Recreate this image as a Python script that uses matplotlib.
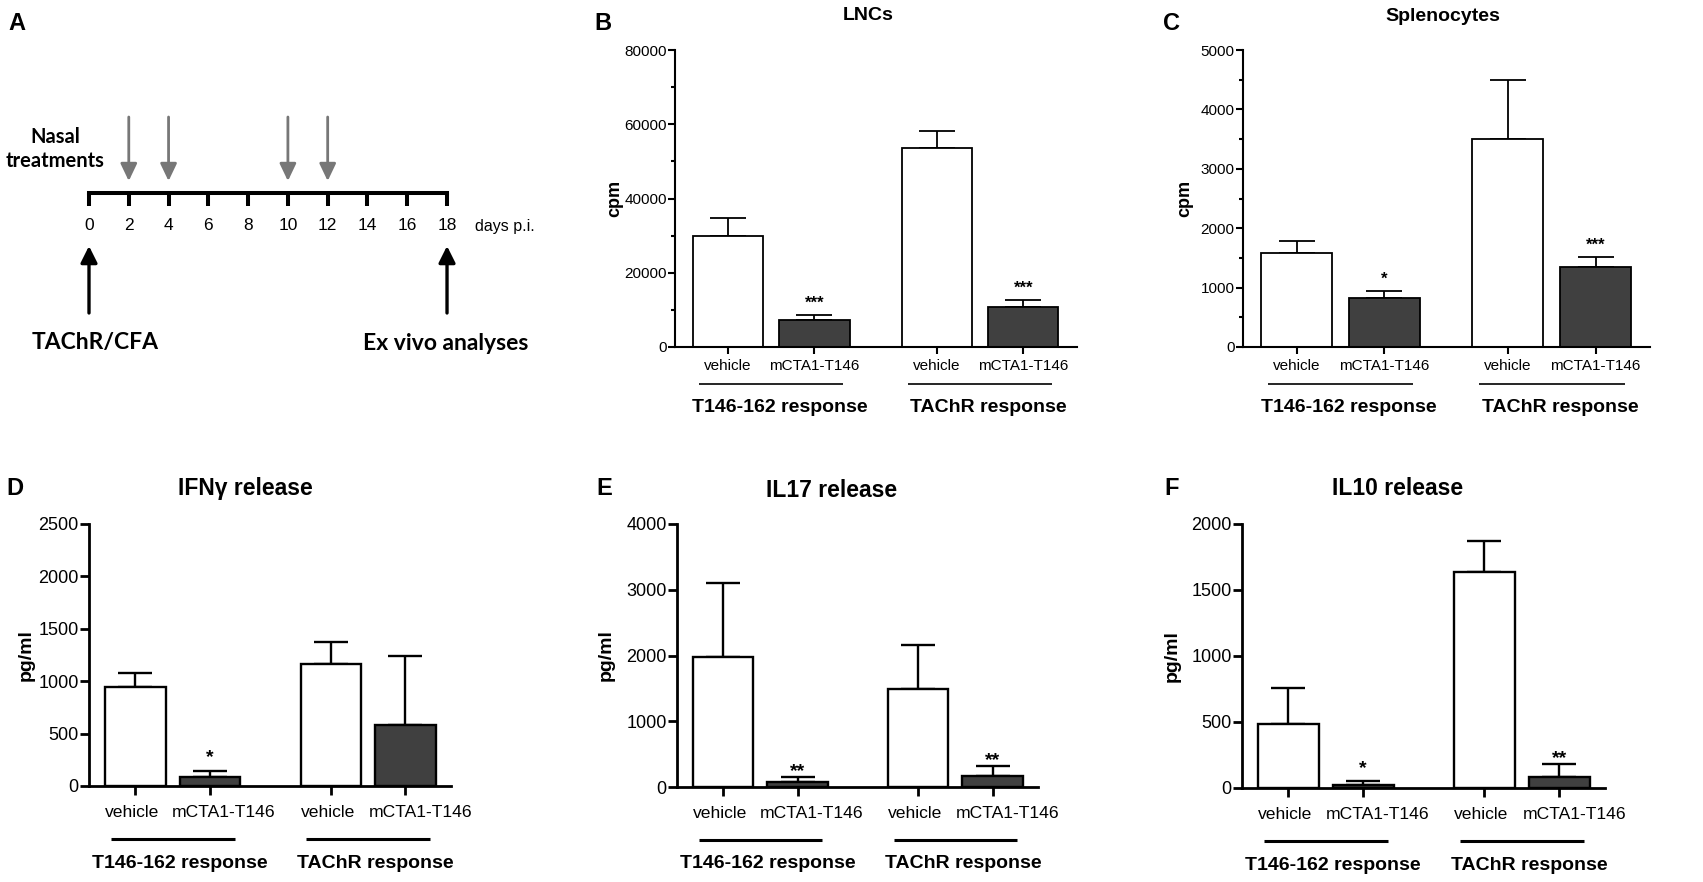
import numpy as np
import matplotlib
matplotlib.use("Agg")
import matplotlib.pyplot as plt
from matplotlib.ticker import MultipleLocator
from matplotlib.transforms import blended_transform_factory

W, H, DPI = 1703, 882, 100
plt.rcParams["font.family"] = ["Liberation Sans", "DejaVu Sans"]

# ---- data ----
CATEGORIES = ["vehicle", "mCTA1-T146", "vehicle", "mCTA1-T146"]
GROUPS = ["T146-162 response", "TAChR response"]

LNC_MEAN = [30000, 7400, 53500, 10800]
LNC_SEM = [4700, 1200, 4800, 1800]
LNC_STARS = ["", "***", "", "***"]

SPL_MEAN = [1590, 830, 3510, 1350]
SPL_SEM = [200, 110, 985, 170]
SPL_STARS = ["", "*", "", "***"]

IFNG_MEAN = [940, 86, 1160, 586]
IFNG_SEM = [137, 60, 210, 653]
IFNG_STARS = ["", "*", "", ""]

IL17_MEAN = [1977, 76, 1494, 163]
IL17_SEM = [1128, 76, 661, 157]
IL17_STARS = ["", "**", "", "**"]

IL10_MEAN = [486, 25, 1637, 81]
IL10_SEM = [275, 25, 232, 100]
IL10_STARS = ["", "*", "", "**"]

TIMELINE_DAYS = list(range(0, 19, 2))
NASAL_DAYS = [2, 4, 10, 12]
IMMUNISATION_DAY = 0
ANALYSIS_DAY = 18

FILLS = ["white", "#404040", "white", "#404040"]

fig = plt.figure(figsize=(W / DPI, H / DPI), dpi=DPI)
PT = 72 / DPI  # points per pixel


def px_rect(left, top, right, bottom):
    return [left / W, 1 - bottom / H, (right - left) / W, (bottom - top) / H]


def ftext(x, y, s, **kw):
    fig.text(x / W, 1 - y / H, s, **kw)


TOP = dict(pos=[0, 1, 2.41, 3.41], xlim=(-0.61, 4.03), tick_fs=11, cat_fs=11,
           cat_shift=(0, 0, 0, 0), cat_off=12,
           spine=1.5, edge=1.3, cap=13, tlen=5, line_off=37, line_lw=1.2,
           grp_off=61, grp_fs=14, star_fs=12, ylab_fs=13)
BOT = dict(pos=[0, 1, 2.62, 3.62], xlim=(-0.62, 4.23), tick_fs=13, cat_fs=12.6,
           cat_shift=(-3, 14, -3, 15), cat_off=19,
           spine=2.0, edge=1.7, cap=12, tlen=6.5, line_off=53, line_lw=2.2,
           grp_off=77, grp_fs=14, star_fs=14, ylab_fs=14)


def bar_panel(rect, means, sems, stars, ymax, major, minor, ylabel, ylab_off, st, star_off):
    left, top, right, bottom = rect
    wpx, hpx = right - left, bottom - top
    ax = fig.add_axes(px_rect(*rect))
    pos = st["pos"]
    ax.bar(pos, means, width=0.81, color=FILLS, edgecolor="black",
           linewidth=st["edge"], zorder=2)
    ax.errorbar(pos, means, yerr=[np.zeros(len(means)), sems], fmt="none",
                ecolor="black", elinewidth=st["edge"], capsize=st["cap"],
                capthick=st["edge"], zorder=1)
    for p, m, e, s in zip(pos, means, sems, stars):
        if s:
            ax.annotate(s, xy=(p, m + e), xytext=(0, star_off[s]),
                        textcoords="offset points", ha="center", va="bottom",
                        fontsize=st["star_fs"], fontweight="bold")
    ax.set_xlim(*st["xlim"])
    ax.set_ylim(0, ymax)
    ax.set_yticks(np.arange(0, ymax + 1, major))
    if minor:
        ax.yaxis.set_minor_locator(MultipleLocator(minor))
    ax.set_xticks(pos)
    ax.set_xticklabels([])
    tr = blended_transform_factory(ax.transData, ax.transAxes)
    for p, lab, dx in zip(pos, CATEGORIES, st["cat_shift"]):
        ax.annotate(lab, xy=(p, 0), xycoords=tr, xytext=(dx * PT, -st["cat_off"] * PT),
                    textcoords="offset points", ha="center", va="top",
                    fontsize=st["cat_fs"], annotation_clip=False)
    for sp in ("top", "right"):
        ax.spines[sp].set_visible(False)
    for sp in ("left", "bottom"):
        ax.spines[sp].set_linewidth(st["spine"])
    ax.tick_params(axis="y", which="major", direction="out", length=st["tlen"],
                   width=st["spine"], labelsize=st["tick_fs"], pad=1)
    ax.tick_params(axis="y", which="minor", direction="out", length=st["tlen"] * 0.55,
                   width=st["spine"])
    ax.tick_params(axis="x", direction="out", length=st["tlen"], width=st["spine"])
    ax.text(-ylab_off / wpx, 0.5, ylabel, transform=ax.transAxes, rotation=90,
            ha="center", va="center", fontsize=st["ylab_fs"], fontweight="bold")
    for g, (i, j) in enumerate([(0, 1), (2, 3)]):
        ax.plot([pos[i] - 0.33, pos[j] + 0.33], [-st["line_off"] / hpx] * 2,
                transform=tr, clip_on=False, color="black", lw=st["line_lw"],
                solid_capstyle="butt")
        ax.text((pos[i] + pos[j]) / 2 + 0.1, -st["grp_off"] / hpx, GROUPS[g],
                transform=tr, ha="center", va="center", fontsize=st["grp_fs"],
                fontweight="bold")
    return ax


STAR_OFF_TOP = {"*": 3, "**": 2, "***": 3}
STAR_OFF_BOT = {"*": 3, "**": -2, "***": 3}

bar_panel((675, 50, 1077, 347), LNC_MEAN, LNC_SEM, LNC_STARS, 80000, 20000, 10000,
          "cpm", 60, TOP, STAR_OFF_TOP)
bar_panel((1243, 50, 1650, 347), SPL_MEAN, SPL_SEM, SPL_STARS, 5000, 1000, 500,
          "cpm", 58, TOP, STAR_OFF_TOP)
bar_panel((89, 524, 451, 786), IFNG_MEAN, IFNG_SEM, IFNG_STARS, 2500, 500, None,
          "pg/ml", 63, BOT, STAR_OFF_BOT)
bar_panel((677, 524, 1038, 787), IL17_MEAN, IL17_SEM, IL17_STARS, 4000, 1000, None,
          "pg/ml", 71, BOT, STAR_OFF_BOT)
bar_panel((1242, 524, 1605, 788), IL10_MEAN, IL10_SEM, IL10_STARS, 2000, 500, None,
          "pg/ml", 70, BOT, STAR_OFF_BOT)

# titles and panel letters
ftext(868, 20, "LNCs", ha="center", va="baseline", fontsize=14, fontweight="bold")
ftext(1443, 21, "Splenocytes", ha="center", va="baseline", fontsize=14, fontweight="bold")
ftext(245, 495, "IFN\u03b3 release", ha="center", va="baseline", fontsize=16.5, fontweight="bold")
ftext(832, 497, "IL17 release", ha="center", va="baseline", fontsize=16.5, fontweight="bold")
ftext(1398, 495, "IL10 release", ha="center", va="baseline", fontsize=16.5, fontweight="bold")
for letter, x, y in [("A", 17, 30), ("B", 603, 30), ("C", 1172, 30),
                     ("D", 15, 495), ("E", 604, 495), ("F", 1172, 495)]:
    ftext(x, y, letter, ha="center", va="baseline", fontsize=17, fontweight="bold")

# ---- panel A: timeline ----
DAY_PX, X0 = 19.89, 89
axA = fig.add_axes(px_rect(0, 0, 560, 420))
axA.set_xlim(-X0 / DAY_PX, (560 - X0) / DAY_PX)
axA.set_ylim(420, 0)
axA.axis("off")
axA.plot([TIMELINE_DAYS[0], TIMELINE_DAYS[-1]], [193, 193], color="black", lw=2.9,
         solid_capstyle="projecting")
for d in TIMELINE_DAYS:
    axA.plot([d, d], [193, 206], color="black", lw=2.9, solid_capstyle="butt")
    axA.text(d, 226, str(d), ha="center", va="center", fontsize=12.5)
axA.text(TIMELINE_DAYS[-1] + 1.4, 226, "days p.i.", ha="left", va="center", fontsize=11.5)
for d in NASAL_DAYS:
    axA.annotate("", xy=(d, 181), xytext=(d, 117),
                 arrowprops=dict(arrowstyle="-|>,head_length=1.05,head_width=0.5",
                                 mutation_scale=10, lw=2, color="#777777",
                                 shrinkA=0, shrinkB=0))
for d in (IMMUNISATION_DAY, ANALYSIS_DAY):
    axA.annotate("", xy=(d, 246), xytext=(d, 313),
                 arrowprops=dict(arrowstyle="-|>,head_length=1.0,head_width=0.5",
                                 mutation_scale=10, lw=2.4, color="black",
                                 shrinkA=0, shrinkB=0))
axA.text((55 - X0) / DAY_PX, 149, "Nasal\ntreatments", ha="center", va="center",
         fontsize=14.5, fontweight="bold", family="Lato", linespacing=1.3)
axA.text((32 - X0) / DAY_PX, 343, "TAChR/CFA", ha="left", va="center",
         fontsize=16.5, fontweight="bold", family="Lato")
axA.text((363 - X0) / DAY_PX, 343, "Ex vivo analyses", ha="left", va="center",
         fontsize=16.5, fontweight="bold", family="Lato")

fig.savefig("out.png", dpi=DPI)
